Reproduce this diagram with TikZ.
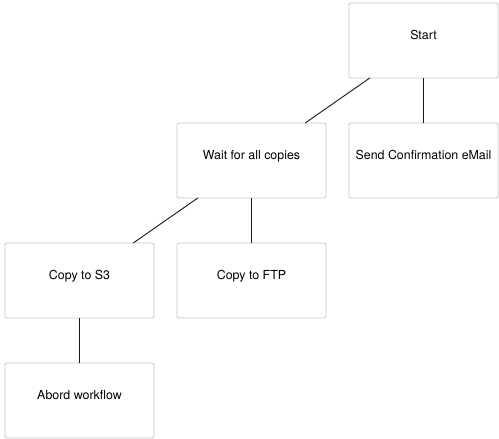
\documentclass[tikz,border=0pt]{standalone}
\usepackage{fontspec}
\setmainfont{TeX Gyre Heros}
\usetikzlibrary{positioning}
\tikzset{
  box/.style    = { rectangle, minimum width=149pt, minimum height=75pt, outer sep=0pt },
  border/.style = { draw=black!22, line width=0.8pt },
  round/.style  = { rounded corners=2pt },
}
\tikzset{
  task/.style   = { box, border, round, text height=8pt, text depth=10pt,
                    font=\fontsize{12.4}{14}\selectfont },
  link/.style   = { draw=black!90, line width=0.9pt }
}

\begin{document}
\begin{tikzpicture}[
  node distance=45pt and 23pt,
  x=1pt,y=1pt
]
  \useasboundingbox (0,0) rectangle (499,-439);

  \node (start) [task] at (423.5,-40.5)      {Start};
  \node (mail)  [task,below=of start]        {Send Confirmation eMail};
  \node (wait)  [task,left=of mail]          {Wait for all copies};
  \node (ftp)   [task,below=of wait]         {Copy to FTP};
  \node (sss)   [task,left=of ftp]           {Copy to S3};
  \node (abord) [task,below=of sss]          {Abord workflow};

  \draw [link] (start) -- (wait);
  \draw [link] (start) -- (mail);
  \draw [link] (wait)  -- (sss);
  \draw [link] (wait)  -- (ftp);
  \draw [link] (sss)   -- (abord);

\end{tikzpicture}
\end{document}
